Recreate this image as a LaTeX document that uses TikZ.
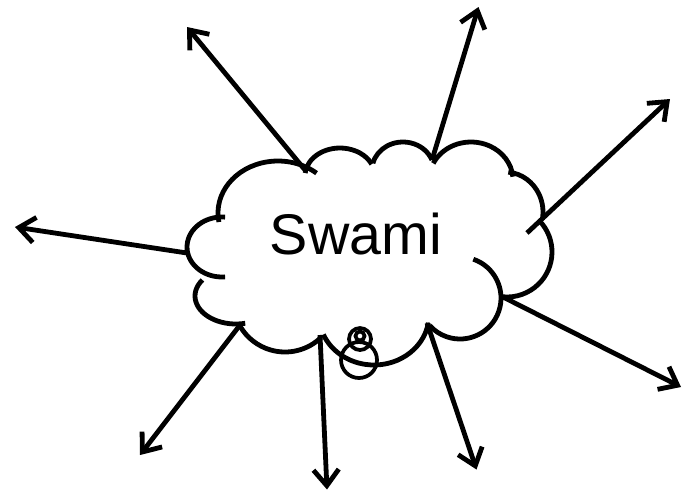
\documentclass[tikz,border=0pt]{standalone}
\usepackage{fontspec}
\setmainfont{Liberation Sans}
\usetikzlibrary{arrows.meta}

\tikzset{
    puff/.style={line width=3.6pt},
    ray/.style={line width=3.6pt, -{Straight Barb[length=12pt, width=19pt]}},
    bead/.style={line width=2.8pt}
}

\begin{document}
\begin{tikzpicture}[x=0.75pt, y=-0.75pt]
    \useasboundingbox (0, 0) rectangle (683, 494);

    % cloud, one arc per puff
    \draw[puff] (278, 213) ++(170:60 and 52) arc[start angle=170, end angle=310, x radius=60, y radius=52];
    \draw[puff] (340, 176) ++(186:35 and 28) arc[start angle=186, end angle=335, x radius=35, y radius=28];
    \draw[puff] (403, 170) ++(194:31 and 28) arc[start angle=194, end angle=339, x radius=31, y radius=28];
    \draw[puff] (471, 180) ++(206:42 and 38) arc[start angle=206, end angle=355, x radius=42, y radius=38];
    \draw[puff] (505, 212) ++(275:38 and 40) arc[start angle=275, end angle=371, x radius=38, y radius=40];
    \draw[puff] (507, 252) ++(316:45 and 45) arc[start angle=316, end angle=455, x radius=45, y radius=45];
    \draw[puff] (460, 298) ++(289:41 and 41) arc[start angle=289, end angle=498, x radius=41, y radius=41];
    \draw[puff] (374, 315) ++(9:55 and 50) arc[start angle=9, end angle=157, x radius=55, y radius=50];
    \draw[puff] (285, 300) ++(46:52 and 52) arc[start angle=46, end angle=150, x radius=52, y radius=52];
    \draw[puff] (236, 296) ++(77:41 and 28) arc[start angle=77, end angle=215, x radius=41, y radius=28];
    \draw[puff] (222, 247) ++(85:35 and 30) arc[start angle=85, end angle=275, x radius=35, y radius=30];

    % thought beads
    \draw[bead] (359, 360) circle (18);
    \draw[bead] (360, 339) circle (11);
    \draw[bead] (360, 336) circle (4.5);

    \node[anchor=base, font=\fontsize{43}{50}\selectfont] (swami) at (356, 254) {Swami};

    % feet of the rays on the cloud
    \coordinate (S1) at (305, 170);
    \coordinate (S2) at (187, 253);
    \coordinate (S3) at (432, 160);
    \coordinate (S4) at (527, 233);
    \coordinate (S5) at (503, 297);
    \coordinate (S6) at (427, 323);
    \coordinate (S7) at (320, 335);
    \coordinate (S8) at (240, 325);

    % tips
    \coordinate (T1) at (187, 27);
    \coordinate (T2) at (15, 227);
    \coordinate (T3) at (478.5, 7);
    \coordinate (T4) at (670, 99);
    \coordinate (T5) at (681, 387);
    \coordinate (T6) at (476.5, 469.5);
    \coordinate (T7) at (327, 489.5);
    \coordinate (T8) at (140, 455);

    \draw[ray] (S1) -- (T1);
    \draw[ray] (S2) -- (T2);
    \draw[ray] (S3) -- (T3);
    \draw[ray] (S4) -- (T4);
    \draw[ray] (S5) -- (T5);
    \draw[ray] (S6) -- (T6);
    \draw[ray] (S7) -- (T7);
    \draw[ray] (S8) -- (T8);
\end{tikzpicture}
\end{document}
